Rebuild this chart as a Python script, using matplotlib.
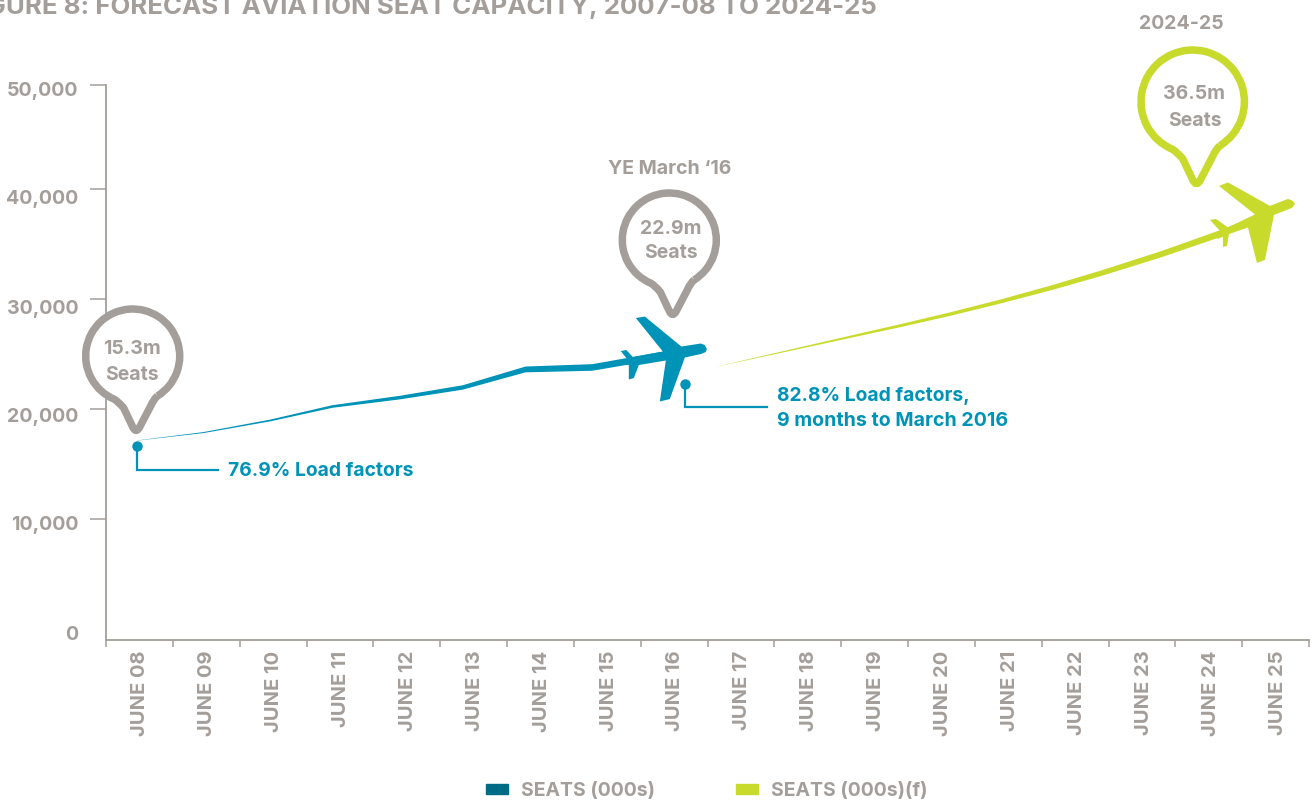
import numpy as np
from matplotlib import pyplot as plt
from matplotlib.patches import Patch, PathPatch
from matplotlib.path import Path
from matplotlib.transforms import Affine2D

plt.rcParams['font.family'] = ['Inter', 'DejaVu Sans']

W, H = 1315, 800

GREY = '#a39e99'
BLUE = '#0093b8'
GREEN = '#c8da2b'
TEAL = '#006b85'

years = ['JUNE %02d' % y for y in range(8, 26)]
y_ticks = [49450, 40000, 30000, 20000, 10000, 0]
y_labels = ['50,000', '40,000', '30,000', '20,000', '10,000', '0']

# actual series, x in category units (0 = left axis, 1 = one year)
seats_x = [0.46, 1.45, 2.45, 3.38, 4.40, 5.33, 6.27, 7.27, 8.29, 8.90]
seats = [17180, 17900, 19000, 20270, 21090, 22000, 23640, 23820, 24900, 25400]
seats_w = [0.2, 1.0, 1.8, 2.6, 3.6, 4.4, 5.8, 6.6, 7.0, 7.0]

# forecast series
fcst_x = [9.14, 10.38, 11.13, 11.88, 12.63, 13.38, 14.13, 14.87, 15.77, 16.67, 17.42]
fcst = [23910, 25590, 26610, 27620, 28680, 29820, 31050, 32360, 34090, 36000, 37730]
fcst_w = [0.1, 1.5, 2.2, 3.0, 3.5, 4.0, 4.8, 5.5, 6.2, 7.0, 8.0]

# plane outlines, pixels relative to the nose
blue_plane = np.array([
    (0, 0), (-2, -4), (-6, -5.5), (-25.5, -2.5), (-62, -32.5), (-71, -31), (-44, 2.5),
    (-74, 8), (-80.5, 1), (-86, 2), (-79, 11), (-84, 11), (-84, 14.5), (-78, 16),
    (-78, 30.5), (-73, 29), (-68, 16), (-41, 11.5), (-47, 52.5), (-37, 50), (-22, 8.5),
    (-6, 5), (-1, 3), (0, 0)])
green_plane = np.array([
    (0, 0), (-2, -3), (-7, -5), (-25, 2), (-67, -21.5), (-76, -18), (-40, 10.5),
    (-67, 23.5), (-79, 15), (-85, 16), (-74, 28), (-79, 29), (-78, 35), (-72, 33),
    (-72, 43), (-68, 42), (-66, 30), (-47, 23.5), (-38, 59), (-30, 56), (-21, 11), (-3, 4),
    (0, 0)])


def px():
    # pixels from the top left of the figure
    return Affine2D().scale(1, -1).translate(0, H)


def pin_path(scale):
    # arc runs counter clockwise, the tail closes it from the left shoulder
    arc = Path.arc(-58, 247)
    circle = arc.vertices * 47
    tail = [(-14, -46), (-9, -52), (0, -71), (3.3, -78), (7, -71), (18, -50), (21, -43), circle[0]]
    codes = list(arc.codes) + [Path.CURVE3, Path.CURVE3, Path.LINETO, Path.CURVE3, Path.CURVE3,
                               Path.LINETO, Path.CURVE3, Path.CURVE3]
    return Path(np.vstack((circle, tail)) * scale, codes)


fig = plt.figure(figsize=(W / 100, H / 100), dpi=100)
ax = fig.add_axes([106 / W, 1 - 640 / H, (1309 - 106) / W, (640 - 85) / H])
ax.set_xlim(0, 18)
ax.set_ylim(-1000, 49450)

for s in ('top', 'right'):
    ax.spines[s].set_visible(False)
for s in ('left', 'bottom'):
    ax.spines[s].set_color(GREY)
    ax.spines[s].set_linewidth(1.3)

ax.set_yticks(y_ticks)
ax.set_yticklabels(y_labels, fontsize=14.1, fontweight='bold', color=GREY)
ax.tick_params(axis='y', length=11.5, width=1.1, color=GREY, pad=8.5)
# the printed labels do not sit quite level with their ticks
for lab, dy in zip(ax.get_yticklabels(), [4, 8, 8, 6, 4, 4]):
    lab.set_transform(lab.get_transform() + Affine2D().translate(0, -dy))
ax.yaxis.get_major_ticks()[-1].tick1line.set_visible(False)

ax.set_xticks(np.arange(19))
ax.set_xticklabels([])
ax.tick_params(axis='x', which='major', length=5, width=1.1, color=GREY)
ax.set_xticks(0.46 + np.arange(18) * 1.002, minor=True)
ax.set_xticklabels(years, minor=True, rotation=90, fontsize=14.5, fontweight='bold',
                   color=GREY, va='top', ha='center')
ax.tick_params(axis='x', which='minor', length=0, pad=7.5)
for lab in ax.get_xticklabels(minor=True):
    lab.set_transform(lab.get_transform() + Affine2D().translate(3, 0))

px_per_seat = (ax.transData.transform((0, 1000))[1] - ax.transData.transform((0, 0))[1]) / 1000

for x, v, w, c in ((seats_x, seats, seats_w, BLUE), (fcst_x, fcst, fcst_w, GREEN)):
    v = np.array(v)
    half = np.array(w) / 2 / px_per_seat
    ax.fill_between(x, v - half, v + half, color=c, lw=0, clip_on=False)

# planes sit at the end of each series
for outline, c, x, v in ((blue_plane, BLUE, 8.99, 25450), (green_plane, GREEN, 17.79, 38640)):
    nose = ax.transData.transform((x, v))
    trans = Affine2D().scale(1, -1).translate(*nose)
    ax.add_patch(PathPatch(Path(outline), fc=c, ec='none', transform=trans, clip_on=False, zorder=3))

# map pins: centre x, centre y, scale, colour
for cx, cy, scale, c in ((132.7, 356, 1.0, GREY), (669.3, 240, 1.0, GREY), (1192.7, 101.7, 1.1, GREEN)):
    trans = Affine2D().translate(cx, H - cy)
    ax.add_patch(PathPatch(pin_path(scale), fc='white', ec=c, lw=5.4, joinstyle='round',
                           transform=trans, clip_on=False, zorder=4))

pin_text = [
    (131.5, 349, '15.3m'), (131.5, 375, 'Seats'),
    (670.5, 229, '22.9m'), (671, 253, 'Seats'),
    (1194.5, 94, '36.5m'), (1195, 120.5, 'Seats'),
    (670, 169, 'YE March ‘16'), (1181, 24, '2024-25'),
]
for x, y, t in pin_text:
    ax.text(x, y, t, transform=px(), ha='center', va='center', fontsize=14,
            fontweight='bold', color=GREY, clip_on=False, zorder=5)

# load factor callouts
for dot, corner, end in (((136.5, 446), (136.5, 470), (218, 470)), ((685, 384), (685, 407), (767, 407))):
    xs, ys = zip(dot, corner, end)
    ax.plot(xs, ys, color=BLUE, lw=1.6, transform=px(), clip_on=False, solid_joinstyle='miter')
    ax.plot(dot[0], dot[1], 'o', color=BLUE, ms=7.5, mew=0, transform=px(), clip_on=False)

ax.text(228, 471, '76.9% Load factors', transform=px(), va='center', fontsize=13.9,
        fontweight='bold', color=BLUE)
ax.text(777, 396, '82.8% Load factors,', transform=px(), va='center', fontsize=13.9,
        fontweight='bold', color=BLUE)
ax.text(777, 421, '9 months to March 2016', transform=px(), va='center', fontsize=14.1,
        fontweight='bold', color=BLUE)

ax.text(877, 14, 'FIGURE 8: FORECAST AVIATION SEAT CAPACITY, 2007-08 TO 2024-25', transform=px(),
        ha='right', va='baseline', fontsize=18.6, fontweight='bold', color=GREY, clip_on=False)

handles = [Patch(color=TEAL, label='SEATS (000s)'), Patch(color=GREEN, label='SEATS (000s)(f)')]
leg = fig.legend(handles=handles, ncol=2, frameon=False, loc='center left',
                 bbox_to_anchor=(476 / W, 1 - 791 / H), prop={'size': 14, 'weight': 'bold'},
                 labelcolor=GREY, handlelength=1.13, handleheight=0.44, handletextpad=0.7,
                 columnspacing=4.14, borderpad=0)

fig.savefig('out.png', dpi=100)
